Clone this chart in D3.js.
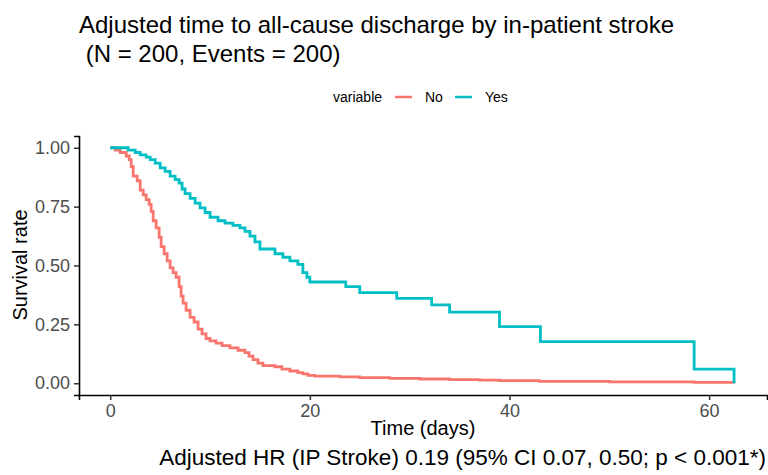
<!DOCTYPE html>
<html>
<head>
<meta charset="utf-8">
<script src="https://cdn.jsdelivr.net/npm/d3@7"></script>
<style>
  body { margin: 0; background: #fff; }
  svg { font-family: "Liberation Sans", Arial, sans-serif; }
</style>
</head>
<body>
<svg width="768" height="475"></svg>
<script>
// step points (time in days, survival)
const noTimes = [0, 0.5, 1.0, 1.6, 1.9, 2.1, 2.3, 2.7, 3.0, 3.3, 3.6, 3.9, 4.1, 4.3, 4.6, 4.9, 5.1, 5.4, 5.7, 6.0, 6.3, 6.6, 6.9, 7.1, 7.3, 7.6, 8.0, 8.4, 8.8, 9.2, 9.6, 10.0, 10.6, 11.2, 12.0, 12.8, 13.5, 13.9, 14.3, 14.8, 15.3, 16.5, 17.2, 18.0, 18.8, 19.3, 19.8, 20.5, 23, 25, 28, 31, 34, 37, 39, 43, 50, 58.5, 62.5];
const noSurv  = [1.00, 0.99, 0.98, 0.965, 0.95, 0.92, 0.88, 0.86, 0.82, 0.80, 0.78, 0.76, 0.73, 0.69, 0.66, 0.62, 0.58, 0.55, 0.52, 0.49, 0.47, 0.45, 0.41, 0.37, 0.34, 0.31, 0.28, 0.26, 0.23, 0.21, 0.19, 0.18, 0.17, 0.16, 0.15, 0.14, 0.13, 0.115, 0.10, 0.085, 0.075, 0.07, 0.06, 0.052, 0.045, 0.04, 0.033, 0.03, 0.027, 0.024, 0.021, 0.018, 0.015, 0.013, 0.011, 0.008, 0.006, 0.004, 0.0];

const yesTimes = [0, 1.8, 2.5, 3.0, 3.6, 4.0, 4.5, 5.0, 5.5, 6.0, 6.5, 6.9, 7.2, 7.5, 8.0, 8.5, 9.0, 9.5, 10.0, 10.8, 11.5, 12.3, 13.0, 13.5, 14.0, 14.5, 15.0, 16.5, 17.3, 18.0, 18.8, 19.3, 19.7, 20.0, 23.6, 25.0, 28.7, 32.2, 34.0, 39.0, 43.1, 58.5, 62.5];
const yesSurv  = [1.00, 0.99, 0.98, 0.97, 0.96, 0.95, 0.935, 0.915, 0.90, 0.88, 0.865, 0.85, 0.825, 0.805, 0.785, 0.765, 0.745, 0.725, 0.705, 0.69, 0.68, 0.67, 0.66, 0.645, 0.625, 0.60, 0.57, 0.55, 0.535, 0.52, 0.505, 0.47, 0.45, 0.43, 0.41, 0.385, 0.36, 0.333, 0.302, 0.24, 0.177, 0.06, 0.0];

const groups = ["No", "Yes"];
const groupColors = ["#F8766D", "#00BFC4"];
const xTicks = [0, 20, 40, 60];
const yTicks = [0, 0.25, 0.5, 0.75, 1];

const series = [
    { name: "No", pts: noTimes.map((t, i) => [t, noSurv[i]]) },
    { name: "Yes", pts: yesTimes.map((t, i) => [t, yesSurv[i]]) }
];

const svg = d3.select("svg");
const color = d3.scaleOrdinal().domain(groups).range(groupColors);

// panel covers the data range plus ggplot's 5% padding
const x = d3.scaleLinear().domain([-3.13, 65.8]).range([79, 767]);
const y = d3.scaleLinear().domain([-0.05, 1.05]).range([395, 136]);

// title
svg.append("text").attr("x", 79).attr("y", 33)
    .style("font-size", "24px").attr("fill", "#000")
    .text("Adjusted time to all-cause discharge by in-patient stroke");
svg.append("text").attr("x", 79).attr("y", 62)
    .style("font-size", "24px").attr("fill", "#000")
    .attr("xml:space", "preserve")
    .text(" (N = 200, Events = 200)");

// legend
const legend = svg.append("g").attr("transform", "translate(0, 97)");
legend.append("text").attr("x", 333).attr("y", 5)
    .style("font-size", "14px").attr("fill", "#000").text("variable");
let lx = [395, 455];
let tx = [425, 485];
groups.forEach((g, i) => {
    legend.append("line")
        .attr("x1", lx[i]).attr("x2", lx[i] + 17)
        .attr("y1", 0).attr("y2", 0)
        .attr("stroke", color(g)).attr("stroke-width", 2.5);
    legend.append("text").attr("x", tx[i]).attr("y", 5)
        .style("font-size", "14px").attr("fill", "#000").text(g);
});

// curves
const line = d3.line()
    .x(d => x(d[0]))
    .y(d => y(d[1]))
    .curve(d3.curveStepAfter);

svg.append("g").selectAll("path")
    .data(series)
    .enter().append("path")
    .attr("d", d => line(d.pts))
    .attr("fill", "none")
    .attr("stroke", d => color(d.name))
    .attr("stroke-width", 2.8);

// axes
const xAxis = svg.append("g")
    .attr("transform", "translate(0, 395)")
    .call(d3.axisBottom(x).tickValues(xTicks).tickFormat(d3.format("d")).tickSizeOuter(0).tickSize(5).tickPadding(4));
const yAxis = svg.append("g")
    .attr("transform", "translate(79, 0)")
    .call(d3.axisLeft(y).tickValues(yTicks).tickFormat(d3.format(".2f")).tickSizeOuter(0).tickSize(5).tickPadding(4));

[xAxis, yAxis].forEach(a => {
    a.select(".domain").attr("stroke", "#000").attr("stroke-width", 1.6);
    a.selectAll(".tick line").attr("stroke", "#333").attr("stroke-width", 1.5);
    a.selectAll(".tick text").attr("fill", "#4D4D4D")
        .style("font-size", "18px").style("font-family", "Liberation Sans, Arial, sans-serif");
});

// axis titles
svg.append("text").attr("x", 423).attr("y", 435)
    .attr("text-anchor", "middle").style("font-size", "20px").attr("fill", "#000")
    .text("Time (days)");
svg.append("text").attr("transform", "translate(27, 265) rotate(-90)")
    .attr("text-anchor", "middle").style("font-size", "20px").attr("fill", "#000")
    .text("Survival rate");

// caption
svg.append("text").attr("x", 766).attr("y", 465)
    .attr("text-anchor", "end").style("font-size", "22.5px").attr("fill", "#000")
    .text("Adjusted HR (IP Stroke) 0.19 (95% CI 0.07, 0.50; p < 0.001*)");
</script>
</body>
</html>
